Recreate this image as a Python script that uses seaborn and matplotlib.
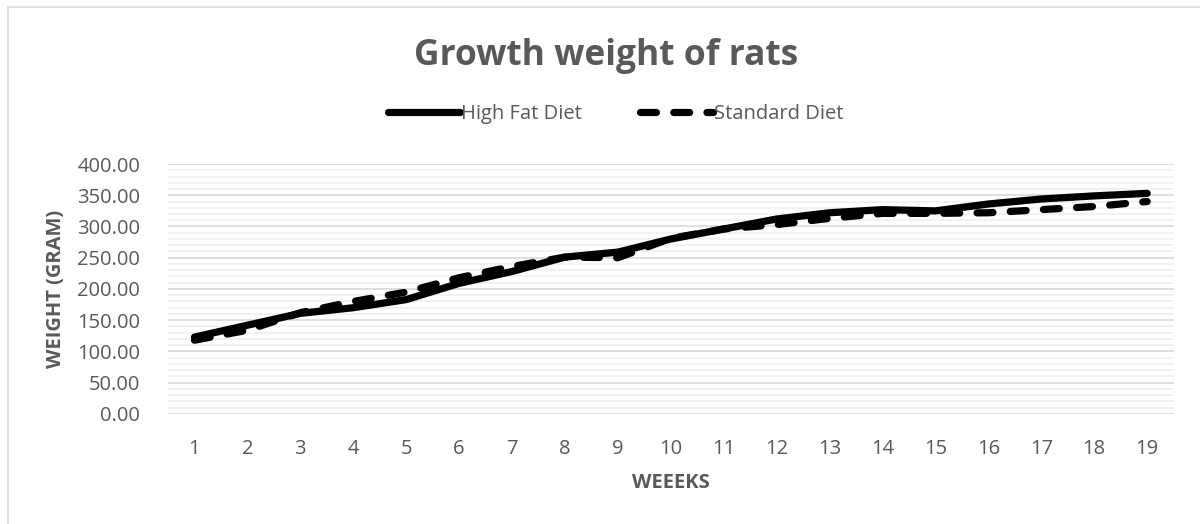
import pandas as pd
import matplotlib.pyplot as plt
import seaborn as sns
import numpy as np
from matplotlib.ticker import MultipleLocator, FormatStrFormatter

# Data
weeks = list(range(1, 20))
high_fat = [123, 142, 161, 170, 183, 209, 228, 251, 259, 280, 296, 312, 322, 327, 325, 336, 344, 349, 353]
standard = [118, 134, 162, 180, 195, 218, 236, 251, 250, 281, 296, 303, 313, 321, 321, 322, 327, 332, 340]
series_names = ['High Fat Diet', 'Standard Diet']

df = pd.DataFrame({'week': weeks, series_names[0]: high_fat, series_names[1]: standard})

sns.set_style('white')
plt.rcParams['font.family'] = ['Open Sans', 'DejaVu Sans']
text_col = '#595959'

fig = plt.figure(figsize=(12, 5.24), dpi=100)
ax = fig.add_axes([0.14, 0.21, 0.838, 0.477])

sns.lineplot(data=df, x='week', y=series_names[0], ax=ax, color='black', lw=5.2,
             label=series_names[0], solid_capstyle='round')
sns.lineplot(data=df, x='week', y=series_names[1], ax=ax, color='black', lw=5.2,
             label=series_names[1], linestyle=(0, (2.2, 2.4)), dash_capstyle='round')

ax.set_xlim(0.5, 19.5)
ax.set_ylim(0, 400)
ax.set_xticks(weeks)
ax.yaxis.set_major_locator(MultipleLocator(50))
ax.yaxis.set_minor_locator(MultipleLocator(10))
ax.yaxis.set_major_formatter(FormatStrFormatter('%.2f'))
ax.grid(axis='y', which='major', color='#d9d9d9', lw=1.2)
ax.grid(axis='y', which='minor', color='#f0f0f0', lw=1.2)
ax.grid(axis='x', visible=False)
ax.set_axisbelow(True)
for s in ax.spines.values():
    s.set_visible(False)
ax.tick_params(axis='both', which='both', length=0, labelsize=14.5, labelcolor=text_col)
ax.tick_params(axis='x', pad=18)
ax.tick_params(axis='y', pad=20)

ax.set_xlabel('WEEEKS', fontsize=14.5, fontweight='bold', color=text_col, labelpad=10)
ax.set_ylabel('WEIGHT (GRAM)', fontsize=14.5, fontweight='bold', color=text_col, labelpad=8)

fig.suptitle('Growth weight of rats', x=0.505, y=0.928, fontsize=25.5, fontweight='bold', color=text_col)

ax.legend(loc='center', bbox_to_anchor=(0.445, 1.2), ncol=2, frameon=False,
          fontsize=14.5, labelcolor=text_col, handlelength=3.6, handletextpad=0.05,
          columnspacing=2.9)

# outer chart border
fig.patches.append(plt.Rectangle((0.007, -0.1), 1.2, 1.087, transform=fig.transFigure,
                                 fill=False, edgecolor='#d9d9d9', lw=1.2))

fig.savefig('out.png', dpi=100)
